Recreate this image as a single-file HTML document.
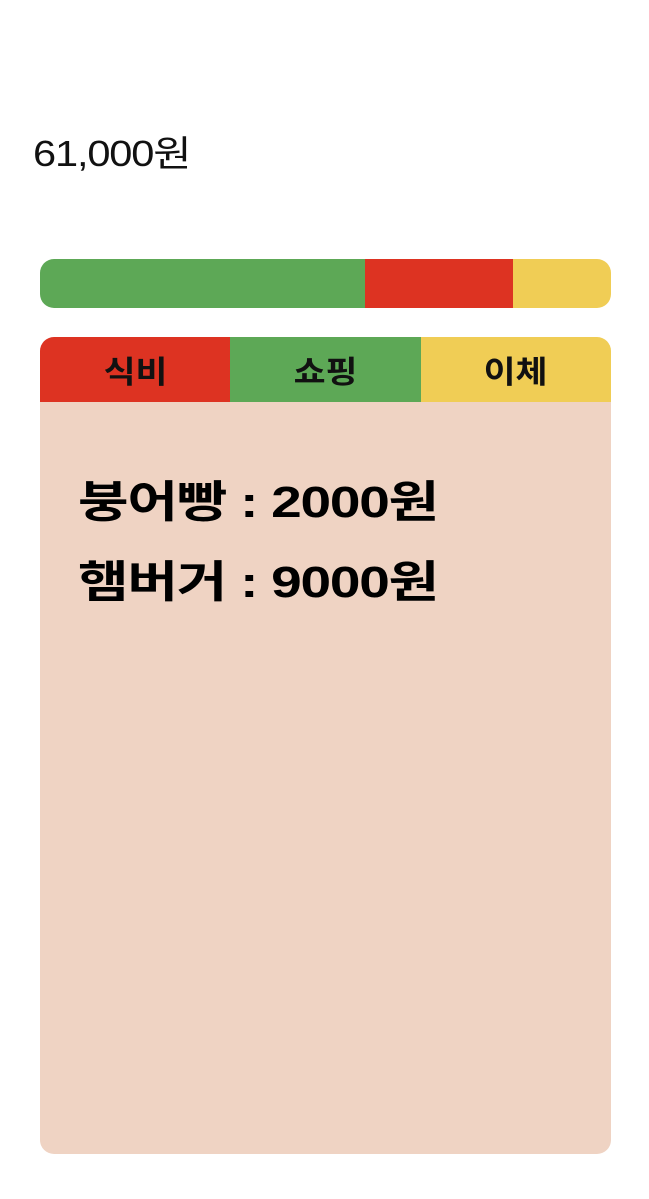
<!DOCTYPE html>
<html><head><meta charset="utf-8">
<style>
body{margin:0;width:649px;height:1199px;background:#fff;font-family:"Liberation Sans","Noto Sans CJK KR",sans-serif;position:relative;overflow:hidden}
#total{position:absolute;left:33px;top:125px;font-size:36px;color:#111;letter-spacing:-1px;transform:scaleX(1.155);transform-origin:left center;white-space:nowrap}
#bar{position:absolute;left:40px;top:259px;width:571px;height:49px;border-radius:14px;overflow:hidden;display:flex}
#tabs{position:absolute;left:40px;top:337px;width:571px;height:65px;border-radius:14px 14px 0 0;overflow:hidden;display:flex}
.tab{flex:1;display:flex;align-items:center;justify-content:center;font-size:31px;font-weight:bold;color:#111}
.tab span{display:inline-block;transform:scaleX(1.12)}
#panel{position:absolute;left:40px;top:402px;width:571px;height:752px;background:#efd3c3;border-radius:0 0 14px 14px}
.item{position:absolute;left:38px;font-size:44px;font-weight:bold;color:#000;letter-spacing:-1px;transform:scaleX(1.25);transform-origin:left center;white-space:nowrap}
</style></head><body>
<div id="total">61,000원</div>
<div id="bar"></div>
<div id="tabs">
<div class="tab" style="background:#dd3322"><span>식비</span></div>
<div class="tab" style="background:#5da856"><span>쇼핑</span></div>
<div class="tab" style="background:#f0cd55"><span>이체</span></div>
</div>
<div id="panel">
<div class="item" style="top:64px">붕어빵 : 2000원</div>
<div class="item" style="top:144px">햄버거 : 9000원</div>
</div>
<script>
const categories=['쇼핑','식비','이체'];
const amounts=[34700,15800,10500];
const colors=['#5da856','#dd3322','#f0cd55'];
const bar=document.getElementById('bar');
const total=amounts.reduce((a,b)=>a+b,0);
amounts.forEach((v,i)=>{
  const d=document.createElement('div');
  
  
  d.style.width=(v/total*571)+'px';
  d.style.height='100%';
  d.style.background=colors[i];
  d.title=categories[i];
  bar.appendChild(d);
});
</script>
</body></html>
